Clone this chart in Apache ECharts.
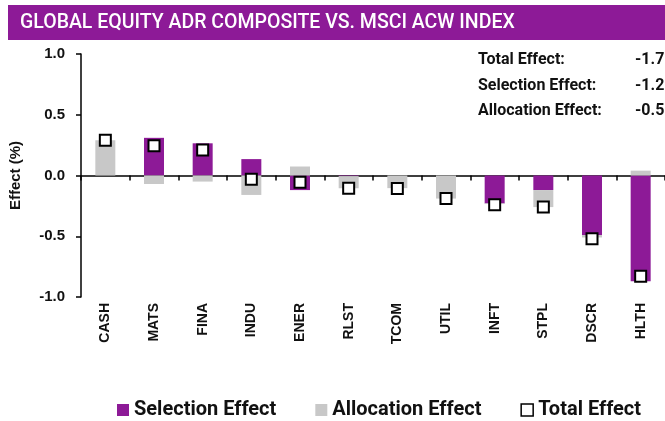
<!DOCTYPE html>
<html><head><meta charset="utf-8">
<script src="https://cdn.jsdelivr.net/npm/echarts@6/dist/echarts.min.js"></script>
<style>html,body{margin:0;padding:0;background:#fff}#c{width:665px;height:421px}</style>
</head><body><div id="c"></div>
<script>
const categories = ['CASH','MATS','FINA','INDU','ENER','RLST','TCOM','UTIL','INFT','STPL','DSCR','HLTH'];
const selection = [0.00, 0.31, 0.265, 0.135, -0.12, -0.005, 0.00, 0.00, -0.23, -0.12, -0.49, -0.87];
const allocation = [0.29, -0.07, -0.05, -0.16, 0.074, -0.10, -0.104, -0.19, -0.005, -0.14, -0.02, 0.04];
const total = [0.29, 0.245, 0.21, -0.03, -0.055, -0.105, -0.107, -0.19, -0.24, -0.26, -0.52, -0.83];
const yTicks = [-1.0, -0.5, 0.0, 0.5, 1.0];
const titleText = 'GLOBAL EQUITY ADR COMPOSITE VS. MSCI ACW INDEX';
const summaryLabels = ['Total Effect:', 'Selection Effect:', 'Allocation Effect:'];
const summaryValues = ['-1.7', '-1.2', '-0.5'];

const PURPLE = '#8D1A97', GRAY = '#C8C8C8';
const chart = echarts.init(document.getElementById('c'), null, {renderer:'canvas'});
const graphics = [
  {type:'rect', shape:{x:8,y:5,width:657,height:35}, style:{fill:PURPLE}, silent:true},
  {type:'text', x:20, y:23, style:{text:titleText, fill:'#fff', font:'500 19.5px Roboto', verticalAlign:'middle'}}
];
const rowY = [60, 86, 111];
summaryLabels.forEach((t,i)=>{
  graphics.push({type:'text', x:478, y:rowY[i], style:{text:t, fill:'#111', font:'bold 16px Roboto', verticalAlign:'middle'}});
  graphics.push({type:'text', x:635, y:rowY[i], style:{text:summaryValues[i], fill:'#111', font:'bold 16px Roboto', verticalAlign:'middle'}});
});
chart.setOption({
  animation:false,
  grid:{left:79, top:54, width:592, height:243, containLabel:false},
  graphic: graphics,
  legend:{
    bottom:-4, left:112, itemWidth:12, itemHeight:12, itemGap:39,
    textStyle:{fontFamily:'Roboto', fontWeight:'bold', fontSize:20, color:'#111'},
    data:[
      {name:'Selection Effect', icon:'rect'},
      {name:'Allocation Effect', icon:'rect'},
      {name:'Total Effect', icon:'rect', itemStyle:{color:'#fff', borderColor:'#000', borderWidth:1.5}}
    ]
  },
  xAxis:[
    {type:'category', data:categories, position:'bottom',
     axisLine:{show:false, onZero:false}, axisTick:{show:false},
     axisLabel:{rotate:90, margin:6, fontFamily:'Liberation Sans', fontWeight:'bold', fontSize:14, color:'#111'}},
    {type:'category', data:categories, position:'bottom',
     axisLine:{show:true, onZero:true, lineStyle:{color:'#000', width:1.5}},
     axisTick:{show:true, length:5, lineStyle:{color:'#000', width:1.5}},
     axisLabel:{show:false}}
  ],
  yAxis:{
    type:'value', min:-1, max:1, interval:0.5,
    axisLine:{show:true, lineStyle:{color:'#000', width:1.5}},
    axisTick:{show:true, length:5, lineStyle:{color:'#000', width:1.5}},
    splitLine:{show:false},
    axisLabel:{formatter:v=>v.toFixed(1), margin:16, fontFamily:'Liberation Sans', fontWeight:'bold', fontSize:15, color:'#111'},
    name:'Effect (%)', nameLocation:'middle', nameGap:58, nameRotate:90,
    nameTextStyle:{fontFamily:'Liberation Sans', fontWeight:'bold', fontSize:15, color:'#111'}
  },
  series:[
    {name:'Selection Effect', type:'bar', stack:'eff', data:selection, barWidth:20, itemStyle:{color:PURPLE}},
    {name:'Allocation Effect', type:'bar', stack:'eff', data:allocation, barWidth:20, itemStyle:{color:GRAY}},
    {name:'Total Effect', type:'scatter', data:total, symbol:'rect', symbolSize:11, z:5,
     itemStyle:{color:'#fff', borderColor:'#000', borderWidth:2, opacity:1}}
  ]
});
</script></body></html>
